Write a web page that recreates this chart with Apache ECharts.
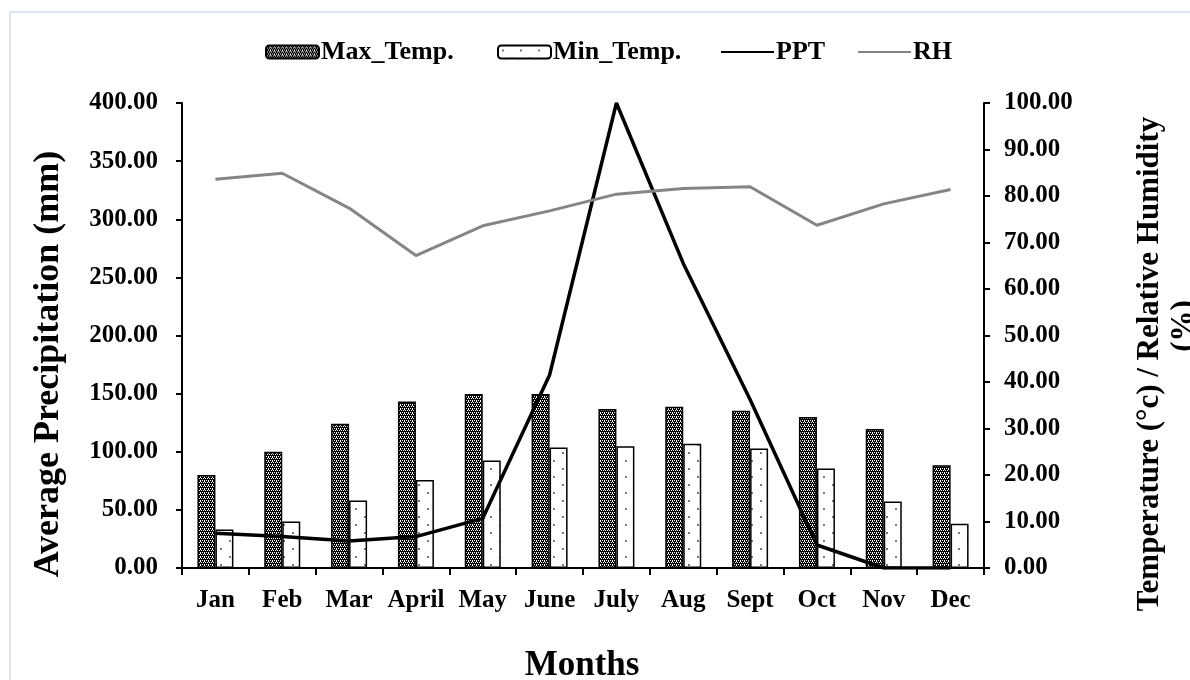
<!DOCTYPE html>
<html>
<head>
<meta charset="utf-8">
<script src="https://cdn.jsdelivr.net/npm/echarts@6/dist/echarts.min.js"></script>
<style>
html,body{margin:0;padding:0;background:#fff;}
#chart{width:1190px;height:680px;}
</style>
</head>
<body>
<div id="chart"></div>
<script>
const months = ['Jan','Feb','Mar','April','May','June','July','Aug','Sept','Oct','Nov','Dec'];
const maxTemp = [20.0, 25.0, 31.0, 35.8, 37.4, 37.4, 34.2, 34.7, 33.8, 32.5, 29.9, 22.1];
const minTemp = [8.3, 10.0, 14.5, 18.9, 23.1, 25.9, 26.2, 26.7, 25.7, 21.4, 14.3, 9.5];
const ppt = [29.8, 27.0, 23.2, 27.0, 42.7, 166.0, 400.0, 262.0, 145.0, 19.8, 0.0, 0.0];
const rh = [83.6, 84.9, 77.4, 67.2, 73.6, 76.8, 80.4, 81.6, 82.0, 73.7, 78.3, 81.4];
const seriesNames = ['Max_Temp.', 'Min_Temp.', 'PPT', 'RH'];
const leftTicks = {min: 0, max: 400, interval: 50};
const rightTicks = {min: 0, max: 100, interval: 10};

function makeDarkPattern() {
  const c = document.createElement('canvas');
  c.width = 4; c.height = 4;
  const g = c.getContext('2d');
  g.fillStyle = '#000'; g.fillRect(0, 0, 4, 4);
  g.fillStyle = '#fff';
  [[0,0],[2,0],[1,2],[3,2],[0,1]].forEach(p => g.fillRect(p[0], p[1], 1, 1));
  return c;
}
function makeDotPattern() {
  const c = document.createElement('canvas');
  c.width = 18; c.height = 16;
  const g = c.getContext('2d');
  g.fillStyle = '#fff'; g.fillRect(0, 0, 18, 16);
  g.fillStyle = '#777';
  g.fillRect(4, 4, 2, 2);
  g.fillRect(13, 12, 2, 2);
  return c;
}
const darkFill = {image: makeDarkPattern(), repeat: 'repeat'};
const dotFill = {image: makeDotPattern(), repeat: 'repeat'};

const FONT = 'Liberation Serif';
const lblStyle = {fontFamily: FONT, fontWeight: 'bold', fontSize: 25, color: '#000'};
const hiddenSymbol = {color: 'rgba(0,0,0,0)', borderColor: 'rgba(0,0,0,0)', borderWidth: 0, opacity: 0};
const legendLefts = [265, 497, 720, 857];

function legendFor(i) {
  const item = {name: seriesNames[i]};
  if (i >= 2) item.itemStyle = hiddenSymbol;
  return {
    top: 39,
    left: legendLefts[i],
    itemWidth: 53,
    itemHeight: 13,
    itemGap: 0,
    padding: 0,
    textStyle: {fontFamily: FONT, fontWeight: 'bold', fontSize: 26, color: '#000', padding: [0,0,0,-3]},
    data: [item]
  };
}

const chart = echarts.init(document.getElementById('chart'), null, {renderer: 'canvas'});
chart.setOption({
  animation: false,
  backgroundColor: '#fff',
  legend: [legendFor(0), legendFor(1), legendFor(2), legendFor(3)],
  grid: {left: 182, right: 206, top: 103, bottom: 112, containLabel: false},
  xAxis: {
    type: 'category',
    data: months,
    boundaryGap: true,
    axisLine: {lineStyle: {color: '#000', width: 2}},
    axisTick: {show: true, alignWithLabel: false, length: 7, lineStyle: {color: '#000', width: 2}},
    axisLabel: Object.assign({margin: 20, interval: 0}, lblStyle),
    splitLine: {show: false}
  },
  yAxis: [
    {
      type: 'value',
      position: 'left',
      min: leftTicks.min, max: leftTicks.max, interval: leftTicks.interval,
      axisLine: {show: true, lineStyle: {color: '#000', width: 2}},
      axisTick: {show: true, length: 6, lineStyle: {color: '#000', width: 2}},
      axisLabel: Object.assign({margin: 24, formatter: v => v.toFixed(2)}, lblStyle),
      splitLine: {show: false}
    },
    {
      type: 'value',
      position: 'right',
      min: rightTicks.min, max: rightTicks.max, interval: rightTicks.interval,
      axisLine: {show: true, lineStyle: {color: '#000', width: 2}},
      axisTick: {show: true, length: 6, lineStyle: {color: '#000', width: 2}},
      axisLabel: Object.assign({margin: 20, formatter: v => v.toFixed(2)}, lblStyle),
      splitLine: {show: false}
    }
  ],
  series: [
    {
      name: seriesNames[0], type: 'bar', yAxisIndex: 1, data: maxTemp,
      barWidth: 18, barGap: '0%',
      itemStyle: {color: darkFill, borderColor: '#000', borderWidth: 1.5}
    },
    {
      name: seriesNames[1], type: 'bar', yAxisIndex: 1, data: minTemp,
      barWidth: 18, barGap: '0%',
      itemStyle: {color: dotFill, borderColor: '#000', borderWidth: 1.5}
    },
    {
      name: seriesNames[2], type: 'line', yAxisIndex: 0, data: ppt,
      symbol: 'none', showSymbol: false,
      lineStyle: {color: '#000', width: 3.5},
      itemStyle: {color: '#000'}
    },
    {
      name: seriesNames[3], type: 'line', yAxisIndex: 1, data: rh,
      symbol: 'none', showSymbol: false,
      lineStyle: {color: '#858585', width: 3},
      itemStyle: {color: '#858585'}
    }
  ],
  graphic: [
    {type: 'rect', silent: true, shape: {x: 10, y: 12, width: 1200, height: 700},
     style: {fill: 'none', stroke: '#dde3ec', lineWidth: 2}},
    {type: 'text', x: 49, y: 364, rotation: Math.PI / 2,
     style: {text: 'Average Precipitation (mm)', font: 'bold 36px "Liberation Serif"', fill: '#000', align: 'center', verticalAlign: 'middle'}},
    {type: 'text', x: 1150, y: 364, rotation: Math.PI / 2,
     style: {text: 'Temperature (°c) / Relative Humidity', font: 'bold 31px "Liberation Serif"', fill: '#000', align: 'center', verticalAlign: 'middle'}},
    {type: 'text', x: 1184, y: 326, rotation: Math.PI / 2,
     style: {text: '(%)', font: 'bold 31px "Liberation Serif"', fill: '#000', align: 'center', verticalAlign: 'middle'}},
    {type: 'text', x: 582, y: 666,
     style: {text: 'Months', font: 'bold 35px "Liberation Serif"', fill: '#000', align: 'center', verticalAlign: 'middle'}}
  ]
});
</script>
</body>
</html>
